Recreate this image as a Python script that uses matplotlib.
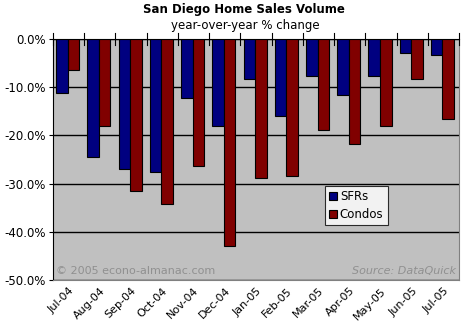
import numpy as np
import matplotlib.pyplot as plt

months = ["Jul-04", "Aug-04", "Sep-04", "Oct-04", "Nov-04", "Dec-04", "Jan-05",
          "Feb-05", "Mar-05", "Apr-05", "May-05", "Jun-05", "Jul-05"]
sfrs = [-11.2, -24.5, -27.0, -27.5, -12.3, -18.0, -8.4,
        -16.0, -7.7, -11.7, -7.7, -3.0, -3.4]
condos = [-6.4, -18.0, -31.5, -34.2, -26.4, -43.0, -28.9,
          -28.5, -18.9, -21.8, -18.1, -8.4, -16.5]

W, H = 470, 331
fig = plt.figure(figsize=(W / 100, H / 100), dpi=100)
ax = fig.add_axes([53 / W, 1 - 280 / H, (459 - 53) / W, (280 - 39) / H])
ax.set_facecolor("#C0C0C0")

x = np.arange(len(months))
bw = 0.37
ax.bar(x - bw / 2 - 0.03, sfrs, bw, color="#000080", edgecolor="black", linewidth=0.8,
       label="SFRs", zorder=3)
ax.bar(x + bw / 2 - 0.03, condos, bw, color="#800000", edgecolor="black", linewidth=0.8,
       label="Condos", zorder=3)

ax.set_xlim(-0.5, len(months) - 0.5)
ax.set_ylim(-50, 0)
yt = np.arange(-50, 1, 10)
ax.set_yticks(yt)
ax.set_yticklabels([f"{v:.1f}%" for v in yt], fontsize=8.5)
ax.yaxis.grid(True, color="black", linewidth=1, zorder=1)
ax.set_axisbelow(True)

# category axis sits at zero, at the top; labels stay below the plot
ax.set_xticks(x)
ax.set_xticklabels(months, rotation=45, ha="right", rotation_mode="anchor", fontsize=8)
ax.tick_params(axis="x", length=0, pad=4)
ax.tick_params(axis="y", length=3, pad=2)
for b in np.arange(-0.5, len(months), 1.0):
    ax.plot([b, b], [-1.2, 1.2], color="black", lw=0.8, clip_on=False, zorder=4)

ax.spines["left"].set_color("black")
ax.spines["top"].set_color("black")
ax.spines["right"].set_color("#808080")
ax.spines["bottom"].set_color("#808080")

leg = ax.legend(loc="upper left", bbox_to_anchor=(272 / 406, 1 - (186 - 39) / 241),
                fontsize=8.5, frameon=True, fancybox=False, edgecolor="black",
                handlelength=0.7, handleheight=0.7, handletextpad=0.2,
                borderpad=0.35, labelspacing=0.4, borderaxespad=0)
leg.get_frame().set_linewidth(0.8)

ax.text(0.008, 0.015, "© 2005 econo-almanac.com", transform=ax.transAxes,
        fontsize=8, color="#909090", ha="left", va="bottom")
ax.text(0.992, 0.015, "Source: DataQuick", transform=ax.transAxes,
        fontsize=8, color="#909090", ha="right", va="bottom", style="italic")

fig.text(244 / W, 1 - 10 / H, "San Diego Home Sales Volume", ha="center", va="center",
         fontsize=8.5, fontweight="bold")
fig.text(245 / W, 1 - 25 / H, "year-over-year % change", ha="center", va="center",
         fontsize=8.5)

fig.savefig("out.png", dpi=100)
